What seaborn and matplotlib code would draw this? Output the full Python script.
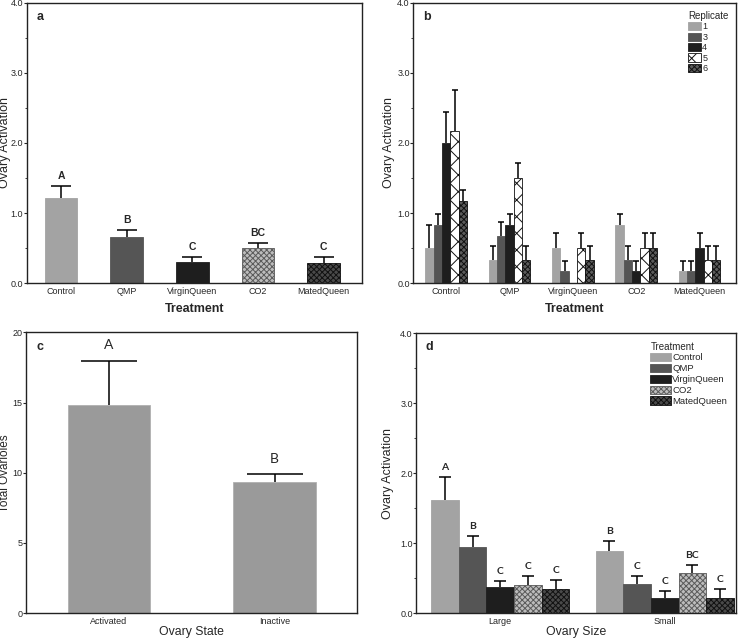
import numpy as np
import pandas as pd
import matplotlib
matplotlib.use('Agg')
import matplotlib.pyplot as plt
from matplotlib.ticker import MultipleLocator, FormatStrFormatter
import seaborn as sns

sns.set_style('ticks')
plt.rcParams['font.family'] = ['Liberation Sans', 'DejaVu Sans']
plt.rcParams['hatch.linewidth'] = 0.7

# ---- data ----
treatments = ['Control', 'QMP', 'VirginQueen', 'CO2', 'MatedQueen']

# (a) ovary activation per treatment, bar height and top of the error bar
act_mean = [1.21, 0.66, 0.30, 0.50, 0.29]
act_top = [1.39, 0.76, 0.38, 0.57, 0.38]
act_letters = ['A', 'B', 'C', 'BC', 'C']

# (b) per replicate (replicate 4 has no VirginQueen bar)
replicates = ['1', '3', '4', '5', '6']
rep1 = [0.50, 0.33, 0.50, 0.83, 0.17]
rep1_top = [0.83, 0.53, 0.71, 0.99, 0.32]
rep3 = [0.83, 0.67, 0.17, 0.33, 0.17]
rep3_top = [0.99, 0.87, 0.32, 0.53, 0.32]
rep4 = [2.00, 0.83, 0.0, 0.17, 0.50]
rep4_top = [2.44, 0.99, np.nan, 0.32, 0.71]
rep5 = [2.17, 1.50, 0.50, 0.50, 0.33]
rep5_top = [2.76, 1.71, 0.71, 0.71, 0.53]
rep6 = [1.17, 0.33, 0.33, 0.50, 0.33]
rep6_top = [1.33, 0.53, 0.53, 0.71, 0.53]

# (c) total ovarioles by ovary state
states = ['Activated', 'Inactive']
ovarioles = [14.82, 9.36]
ovarioles_top = [17.98, 9.88]
state_letters = ['A', 'B']

# (d) ovary activation by ovary size and treatment
sizes = ['Large', 'Small']
d_control = [1.62, 0.89]
d_control_top = [1.95, 1.03]
d_qmp = [0.94, 0.42]
d_qmp_top = [1.10, 0.53]
d_virgin = [0.37, 0.21]
d_virgin_top = [0.46, 0.32]
d_co2 = [0.40, 0.58]
d_co2_top = [0.53, 0.69]
d_mated = [0.35, 0.22]
d_mated_top = [0.47, 0.34]
d_letters_large = ['A', 'B', 'C', 'C', 'C']
d_letters_small = ['B', 'C', 'C', 'BC', 'C']

# ---- styles ----
treat_face = ['#a3a3a3', '#555555', '#1e1e1e', '#bdbdbd', '#4a4a4a']
treat_edge = ['#a3a3a3', '#555555', '#1e1e1e', '#5a5a5a', '#111111']
treat_hatch = [None, None, None, 'xxxxxx', 'xxxxxx']

rep_face = ['#a3a3a3', '#555555', '#1e1e1e', '#ffffff', '#5c5c5c']
rep_edge = ['#a3a3a3', '#555555', '#1e1e1e', '#111111', '#111111']
rep_hatch = [None, None, None, 'xx', 'xxxxxx']


def style_bars(patches, face, edge, hatch):
    for p in patches:
        p.set_facecolor(face)
        p.set_edgecolor(edge)
        p.set_linewidth(0.6)
        if hatch:
            p.set_hatch(hatch)


def add_errbars(ax, patches, tops, capsize):
    # one-sided (upper) error bars starting at the bar top
    xs, ys, up = [], [], []
    for p, t in zip(patches, tops):
        if np.isnan(t):
            continue
        xs.append(p.get_x() + p.get_width() / 2)
        ys.append(p.get_height())
        up.append(t - p.get_height())
    eb = ax.errorbar(xs, ys, yerr=[np.zeros(len(up)), up], fmt='none',
                     ecolor='black', elinewidth=1.1, capsize=capsize,
                     capthick=1.1, zorder=1)
    for cl in eb[1]:
        if np.allclose(cl.get_ydata(), ys):
            cl.set_visible(False)


def add_letters(ax, patches, tops, letters, offset, **kw):
    for p, t, s in zip(patches, tops, letters):
        ax.text(p.get_x() + p.get_width() / 2, t + offset, s,
                ha='center', va='bottom', **kw)


def frame(ax, minor=True):
    for sp in ax.spines.values():
        sp.set_visible(True)
        sp.set_linewidth(1.0)
        sp.set_color('#222222')
    if minor:
        ax.yaxis.set_major_locator(MultipleLocator(1.0))
        ax.yaxis.set_minor_locator(MultipleLocator(0.5))
        ax.yaxis.set_major_formatter(FormatStrFormatter('%.1f'))
    ax.tick_params(axis='both', labelsize=6.5, length=2, width=0.8,
                   direction='out', pad=0.6)
    ax.tick_params(axis='x', length=0, pad=3)
    ax.tick_params(axis='y', which='minor', length=1.5, width=0.6)


fig = plt.figure(figsize=(7.46, 6.38), dpi=100)

# ---------- a ----------
ax_a = fig.add_axes([0.036, 0.556, 0.449, 0.440])
sns.barplot(x=treatments, y=act_mean, hue=treatments, palette=treat_face,
            legend=False, width=0.5, errorbar=None, ax=ax_a, zorder=2)
bars_a = sorted(list(ax_a.patches), key=lambda p: p.get_x())
for k, p in enumerate(bars_a):
    style_bars([p], treat_face[k], treat_edge[k], treat_hatch[k])
add_errbars(ax_a, bars_a, act_top, 7)
add_letters(ax_a, bars_a, act_top, act_letters, 0.07, fontsize=7.5,
            fontweight='bold')
ax_a.set_ylim(0, 4.0)
ax_a.set_xlim(-0.52, 4.58)
ax_a.set_xlabel('Treatment', fontsize=9, fontweight='bold', labelpad=5)
ax_a.set_ylabel('Ovary Activation', fontsize=9)
ax_a.yaxis.set_label_coords(-0.046, 0.5)
ax_a.text(0.03, 0.97, 'a', transform=ax_a.transAxes, fontsize=9,
          fontweight='bold', va='top')
frame(ax_a)

# ---------- b ----------
ax_b = fig.add_axes([0.554, 0.556, 0.433, 0.440])
rep_vals = [rep1, rep3, rep4, rep5, rep6]
rep_tops = [rep1_top, rep3_top, rep4_top, rep5_top, rep6_top]
df_b = pd.DataFrame({
    'Treatment': treatments * len(replicates),
    'Replicate': np.repeat(replicates, len(treatments)),
    'value': np.concatenate(rep_vals),
})
sns.barplot(data=df_b, x='Treatment', y='value', hue='Replicate',
            hue_order=replicates, palette=rep_face, width=0.66,
            errorbar=None, ax=ax_b, zorder=2)
conts_b = list(ax_b.containers)
for k, cont in enumerate(conts_b):
    style_bars(cont.patches, rep_face[k], rep_edge[k], rep_hatch[k])
    add_errbars(ax_b, cont.patches, rep_tops[k], 2.3)
ax_b.set_ylim(0, 4.0)
ax_b.set_xlim(-0.52, 4.58)
ax_b.set_xlabel('Treatment', fontsize=9, fontweight='bold', labelpad=5)
ax_b.set_ylabel('Ovary Activation', fontsize=9)
ax_b.yaxis.set_label_coords(-0.056, 0.5)
ax_b.text(0.03, 0.97, 'b', transform=ax_b.transAxes, fontsize=9,
          fontweight='bold', va='top')
ax_b.legend(handles=[c.patches[0] for c in conts_b], labels=replicates,
            title='Replicate', loc='upper right', frameon=False, fontsize=6.5,
            title_fontsize=7, handlelength=1.5, handleheight=1.0,
            handletextpad=0.1, labelspacing=0.15, alignment='left',
            bbox_to_anchor=(1.0, 1.0))
frame(ax_b)

# ---------- c ----------
ax_c = fig.add_axes([0.035, 0.039, 0.444, 0.440])
sns.barplot(x=states, y=ovarioles, color='#9a9a9a', width=0.5,
            errorbar=None, ax=ax_c, zorder=2)
bars_c = sorted(list(ax_c.patches), key=lambda p: p.get_x())
style_bars(bars_c, '#9a9a9a', '#b0b0b0', None)
add_errbars(ax_c, bars_c, ovarioles_top, 20)
add_letters(ax_c, bars_c, ovarioles_top, state_letters, 0.7, fontsize=10,
            family=['Lato', 'DejaVu Sans'])
ax_c.set_ylim(0, 20)
ax_c.set_xlim(-0.5, 1.5)
ax_c.yaxis.set_major_locator(MultipleLocator(5))
ax_c.set_xlabel('Ovary State', fontsize=8.8, labelpad=0)
ax_c.set_ylabel('Total Ovarioles', fontsize=8.5)
ax_c.yaxis.set_label_coords(-0.045, 0.5)
ax_c.text(0.03, 0.97, 'c', transform=ax_c.transAxes, fontsize=9,
          fontweight='bold', va='top')
frame(ax_c, minor=False)

# ---------- d ----------
ax_d = fig.add_axes([0.558, 0.039, 0.428, 0.439])
d_vals = [d_control, d_qmp, d_virgin, d_co2, d_mated]
d_tops = [d_control_top, d_qmp_top, d_virgin_top, d_co2_top, d_mated_top]
df_d = pd.DataFrame({
    'Size': sizes * len(treatments),
    'Treatment': np.repeat(treatments, len(sizes)),
    'value': np.concatenate(d_vals),
})
sns.barplot(data=df_d, x='Size', y='value', hue='Treatment',
            hue_order=treatments, palette=treat_face, width=0.84,
            errorbar=None, ax=ax_d, zorder=2)
conts_d = list(ax_d.containers)
for k, cont in enumerate(conts_d):
    style_bars(cont.patches, treat_face[k], treat_edge[k], treat_hatch[k])
    add_errbars(ax_d, cont.patches, d_tops[k], 4.5)
    add_letters(ax_d, cont.patches, d_tops[k],
                [d_letters_large[k], d_letters_small[k]], 0.07,
                fontsize=7.5, fontweight='bold', family=['Lato', 'DejaVu Sans'])
ax_d.set_ylim(0, 4.0)
ax_d.set_xlim(-0.51, 1.43)
ax_d.set_xlabel('Ovary Size', fontsize=8.8, labelpad=0)
ax_d.set_ylabel('Ovary Activation', fontsize=9)
ax_d.yaxis.set_label_coords(-0.069, 0.5)
ax_d.text(0.03, 0.97, 'd', transform=ax_d.transAxes, fontsize=9,
          fontweight='bold', va='top')
ax_d.legend(handles=[c.patches[0] for c in conts_d], labels=treatments,
            title='Treatment', loc='upper right', frameon=False, fontsize=6.8,
            title_fontsize=7, handlelength=2.2, handleheight=1.0,
            handletextpad=0.1, labelspacing=0.15, alignment='left',
            bbox_to_anchor=(1.0, 1.0))
frame(ax_d)

fig.savefig('out.png', dpi=100)
